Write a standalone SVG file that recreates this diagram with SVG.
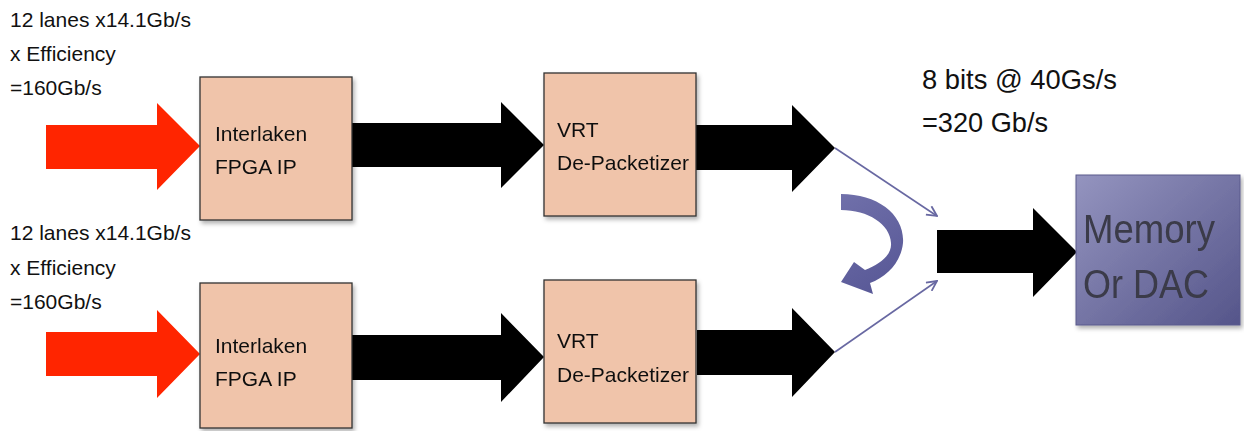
<svg xmlns="http://www.w3.org/2000/svg" width="1244" height="431" viewBox="0 0 1244 431">
  <style>
    .lbl { font-family: "Liberation Sans", Arial, sans-serif; fill: #111; }
    .small { font-size: 21px; }
    .box { fill: #f0c4aa; stroke: #333; stroke-width: 1.3; }
    .red { fill: #ff2500; }
    .blk { fill: #000; }
    .conn { stroke: #6868a2; stroke-width: 1.6; fill: none; }
  </style>
  <defs>
    <filter id="sh" x="-10%" y="-10%" width="130%" height="130%">
      <feDropShadow dx="2" dy="3" stdDeviation="2" flood-color="#000" flood-opacity="0.3"/>
    </filter>
    <linearGradient id="memg" x1="0" y1="0" x2="1" y2="1">
      <stop offset="0" stop-color="#9494bf"/>
      <stop offset="1" stop-color="#55558a"/>
    </linearGradient>
    <linearGradient id="curg" x1="0" y1="0" x2="0.4" y2="1">
      <stop offset="0" stop-color="#7070aa"/>
      <stop offset="1" stop-color="#5a5a98"/>
    </linearGradient>
    <marker id="chev" viewBox="0 0 12 12" refX="11" refY="6" markerWidth="12" markerHeight="12" markerUnits="userSpaceOnUse" orient="auto">
      <path d="M1,1 L11,6 L1,11" fill="none" stroke="#6868a2" stroke-width="1.8"/>
    </marker>
  </defs>

  <!-- labels -->
  <g id="label-top" class="lbl small">
    <text x="10" y="27">12 lanes x14.1Gb/s</text>
    <text x="10" y="61">x Efficiency</text>
    <text x="10" y="95">=160Gb/s</text>
  </g>
  <g id="label-bottom" class="lbl small">
    <text x="10" y="240">12 lanes x14.1Gb/s</text>
    <text x="10" y="275">x Efficiency</text>
    <text x="10" y="309">=160Gb/s</text>
  </g>
  <g id="label-rate" class="lbl" font-size="28">
    <text x="922" y="89" textLength="195" lengthAdjust="spacingAndGlyphs">8 bits @ 40Gs/s</text>
    <text x="922" y="132" textLength="126" lengthAdjust="spacingAndGlyphs">=320 Gb/s</text>
  </g>

  <!-- connectors -->
  <g id="connectors">
    <polygon class="red" points="46,125 157,125 157,103 200,146 157,190 157,169 46,169"/>
    <polygon class="red" points="46,332 157,332 157,310 200,354 157,398 157,376 46,376"/>
    <polygon class="blk" points="352,123 501,123 501,102 544,145 501,188 501,167 352,167"/>
    <polygon class="blk" points="696,125 792,125 792,105 835,148 792,192 792,170 696,170"/>
    <polygon class="blk" points="352,335 501,335 501,313 544,357 501,402 501,380 352,380"/>
    <polygon class="blk" points="697,330 792,330 792,308 835,352 792,397 792,375 697,375"/>
    <polygon class="blk" points="937,230 1033,230 1033,208 1077,252 1033,297 1033,273 937,273"/>
    <line class="conn" x1="835" y1="148" x2="937" y2="216" marker-end="url(#chev)"/>
    <line class="conn" x1="835" y1="352" x2="937" y2="281" marker-end="url(#chev)"/>
    <path id="swap-arrow" fill="url(#curg)" d="M841,194 C878,194 905,215 903,243 C901,262 887,277 870,283 L873,294 L841,282 L854,262 L865,270 C880,264 892,255 891,243 C890,224 868,210 841,210 Z"/>
  </g>

  <!-- nodes -->
  <g id="interlaken-top" filter="url(#sh)">
    <rect class="box" x="200" y="77" width="152" height="143"/>
    <text class="lbl small" x="215" y="141">Interlaken</text>
    <text class="lbl small" x="215" y="174">FPGA IP</text>
  </g>
  <g id="interlaken-bottom" filter="url(#sh)">
    <rect class="box" x="200" y="283" width="152" height="145"/>
    <text class="lbl small" x="215" y="353">Interlaken</text>
    <text class="lbl small" x="215" y="386">FPGA IP</text>
  </g>
  <g id="vrt-top" filter="url(#sh)">
    <rect class="box" x="544" y="73" width="152" height="143"/>
    <text class="lbl small" x="557" y="137">VRT</text>
    <text class="lbl small" x="557" y="170">De-Packetizer</text>
  </g>
  <g id="vrt-bottom" filter="url(#sh)">
    <rect class="box" x="544" y="280" width="152" height="143"/>
    <text class="lbl small" x="557" y="348">VRT</text>
    <text class="lbl small" x="557" y="382">De-Packetizer</text>
  </g>
  <g id="memory-dac" filter="url(#sh)">
    <rect x="1076" y="175" width="164" height="150" fill="url(#memg)" stroke="#5a5a8c" stroke-width="1"/>
    <text x="1083" y="243" font-family="Liberation Sans, Arial, sans-serif" font-size="41" fill="#3a3a48" textLength="132" lengthAdjust="spacingAndGlyphs">Memory</text>
    <text x="1083" y="298" font-family="Liberation Sans, Arial, sans-serif" font-size="41" fill="#3a3a48" textLength="126" lengthAdjust="spacingAndGlyphs">Or DAC</text>
  </g>
</svg>
